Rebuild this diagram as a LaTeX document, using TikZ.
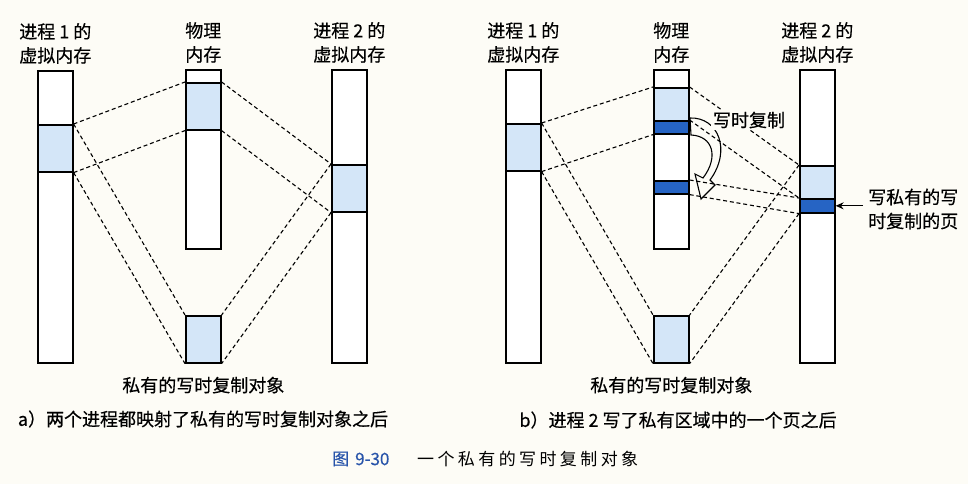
\documentclass[tikz,border=0pt]{standalone}
\usepackage{fontspec}
\setmainfont{Noto Sans CJK SC}[FakeBold=0.4]
\newfontfamily\capfont[LetterSpace=20]{Noto Sans CJK SC}
\usepackage{xcolor}
\usepackage{tikz}
\usetikzlibrary{positioning,arrows.meta}
\definecolor{paper}{RGB}{253,252,246}
\definecolor{pagelt}{RGB}{212,230,248}
\definecolor{pagedk}{RGB}{38,100,196}
\definecolor{capblue}{RGB}{40,84,170}
\tikzset{
  mem/.style={draw,line width=1.6pt,fill=white,minimum width=35pt,
              inner sep=0pt,anchor=north west},
  pglt/.style={mem,fill=pagelt},
  pgdk/.style={mem,fill=pagedk},
  map/.style={line width=1.1pt,dash pattern=on 4pt off 2.8pt},
  hdr/.style={align=center,inner sep=1pt,font=\fontsize{18}{24}\selectfont},
  txt/.style={inner sep=1pt,font=\fontsize{18}{24}\selectfont},
}

\begin{document}
\begin{tikzpicture}[x=1pt,y=-1pt]
  \fill[paper] (0,0) rectangle (968,484);
  \useasboundingbox (0,0) rectangle (968,484);

  % a) both processes map the object
  \node[mem,minimum height=292pt] (p1a) at (37,70) {};
  \node[pglt,minimum height=47pt] (p1ra) at (37,124) {};
  \node[mem,minimum height=179pt] (pma) at (185,69) {};
  \node[pglt,minimum height=47pt] (pmra) at (185,82) {};
  \node[mem,minimum height=293pt] (p2a) at (331,69) {};
  \node[pglt,minimum height=47pt] (p2ra) at (331,164) {};
  \node[pglt,minimum height=47pt] (oba) at (185,315) {};

  \node[hdr,above=5pt of p1a] {进程 1 的\\虚拟内存};
  \node[hdr,above=5pt of pma] {物理\\内存};
  \node[hdr,above=5pt of p2a] {进程 2 的\\虚拟内存};
  \node[txt,below=12pt of oba] (obla) {私有的写时复制对象};

  \draw[map] (p1ra.north east) -- (pmra.north west);
  \draw[map] (p1ra.south east) -- (pmra.south west);
  \draw[map] (pmra.north east) -- (p2ra.north west);
  \draw[map] (pmra.south east) -- (p2ra.south west);
  \draw[map] (p1ra.north east) -- (oba.north west);
  \draw[map] (p1ra.south east) -- (oba.south west);
  \draw[map] (p2ra.north west) -- (oba.north east);
  \draw[map] (p2ra.south west) -- (oba.south east);

  \node[txt] (suba) at (203,419) {a）两个进程都映射了私有的写时复制对象之后};

  % b) process 2 writes one page
  \node[mem,minimum height=293pt] (p1b) at (505,69) {};
  \node[pglt,minimum height=47pt] (p1rb) at (505,123) {};
  \node[mem,minimum height=179pt] (pmb) at (653,69) {};
  \node[pglt,minimum height=33pt] (pmlb) at (653,87) {};
  \node[pgdk,minimum height=13pt] (pmdb) at (653,120) {};
  \node[pgdk,minimum height=13pt] (pmcb) at (653,180) {};
  \node[mem,minimum height=293pt] (p2b) at (799,69) {};
  \node[pglt,minimum height=33pt] (p2lb) at (799,165) {};
  \node[pgdk,minimum height=14pt] (p2db) at (799,198) {};
  \node[pglt,minimum height=47pt] (obb) at (653,315) {};

  \node[hdr,above=5pt of p1b] {进程 1 的\\虚拟内存};
  \node[hdr,above=5pt of pmb] {物理\\内存};
  \node[hdr,above=5pt of p2b] {进程 2 的\\虚拟内存};
  \node[txt,below=12pt of obb] (oblb) {私有的写时复制对象};

  \draw[line width=1.1pt,fill=paper] (690,118) .. controls (718,117) and (732,150) .. (710,180)
    -- (715,185) -- (701,199) -- (695,174) -- (703,178)
    .. controls (719,157) and (713,136) .. (691,135) -- cycle;

  \draw[map] (p1rb.north east) -- (pmlb.north west);
  \draw[map] (p1rb.south east) -- (pmdb.south west);
  \draw[map] (pmlb.north east) -- (p2lb.north west);
  \draw[map] (pmdb.north east) -- (p2db.north west);
  \draw[map] (pmcb.north east) -- (p2db.north west);
  \draw[map] (pmcb.south east) -- (p2db.south west);
  \draw[map] (p1rb.north east) -- (obb.north west);
  \draw[map] (p1rb.south east) -- (obb.south west);
  \draw[map] (p2lb.north west) -- (obb.north east);
  \draw[map] (p2db.south west) -- (obb.south east);

  \node[txt,fill=paper,inner sep=2pt] (cow) at (749,120) {写时复制};
  \node[hdr,align=left,anchor=west,inner sep=5pt] (wrpg) at (863,209) {写私有的写\\时复制的页};
  \draw[line width=1.1pt,-{Stealth[length=8pt,width=7pt]}] (wrpg.west |- p2db.east) -- (p2db.east);

  \node[txt] (subb) at (678,420) {b）进程 2 写了私有区域中的一个页之后};

  % figure caption
  \node[anchor=west,inner sep=0pt,text=capblue,font=\fontsize{17}{20}\selectfont] (capno) at (332,459) {图\hspace{6pt}9-30};
  \node[anchor=west,inner sep=0pt,font=\fontsize{17}{20}\capfont] (captxt) at (417,459) {一个私有的写时复制对象};
\end{tikzpicture}
\end{document}
